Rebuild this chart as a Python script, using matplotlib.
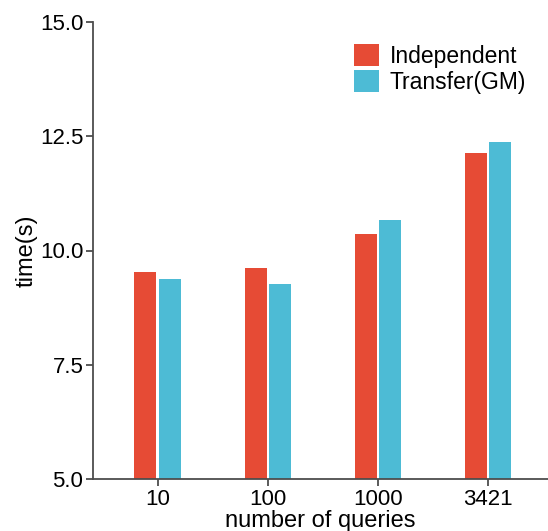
import numpy as np
from matplotlib import pyplot as plt

queries = ["10", "100", "1000", "3421"]
independent = [9.53, 9.62, 10.36, 12.13]
transfer_gm = [9.38, 9.27, 10.67, 12.37]
series_names = ["Independent", "Transfer(GM)"]
colors = ["#E64B35", "#4DBBD5"]


def main():
    plt.rcParams["font.family"] = ["Liberation Sans", "DejaVu Sans"]
    fig = plt.figure(figsize=(5.48, 5.31), dpi=100)
    ax = fig.add_axes([93 / 548, 52 / 531, 1 - 93 / 548, 457 / 531])

    x = np.arange(len(queries))
    width = 0.2
    off = 0.113
    ax.bar(x - off, independent, width, color=colors[0], label=series_names[0])
    ax.bar(x + off, transfer_gm, width, color=colors[1], label=series_names[1])

    ax.set_ylim(5, 15)
    ax.set_yticks([5, 7.5, 10, 12.5, 15])
    ax.set_yticklabels(["5.0", "7.5", "10.0", "12.5", "15.0"])
    ax.set_xlim(-0.59, 3.545)
    ax.set_xticks(x)
    ax.set_xticklabels(queries)

    for side in ["top", "right"]:
        ax.spines[side].set_visible(False)
    for side in ["left", "bottom"]:
        ax.spines[side].set_color("#4d4d4d")
        ax.spines[side].set_linewidth(1.3)
    ax.tick_params(colors="#4d4d4d", labelcolor="black", labelsize=16,
                   length=5, width=1.3, pad=2)

    ax.set_xlabel("number of queries", fontsize=17, labelpad=0)
    ax.set_ylabel("time(s)", fontsize=17, labelpad=1.5)

    ax.legend(loc="upper left", bbox_to_anchor=(354 / 548, 1 - 44 / 531),
              bbox_transform=fig.transFigure, frameon=False, fontsize=16.5,
              handlelength=1.1, handleheight=1.1, handletextpad=0.45,
              labelspacing=0.1, borderpad=0, borderaxespad=0)

    fig.savefig("out.png", dpi=100)


if __name__ == "__main__":
    main()
